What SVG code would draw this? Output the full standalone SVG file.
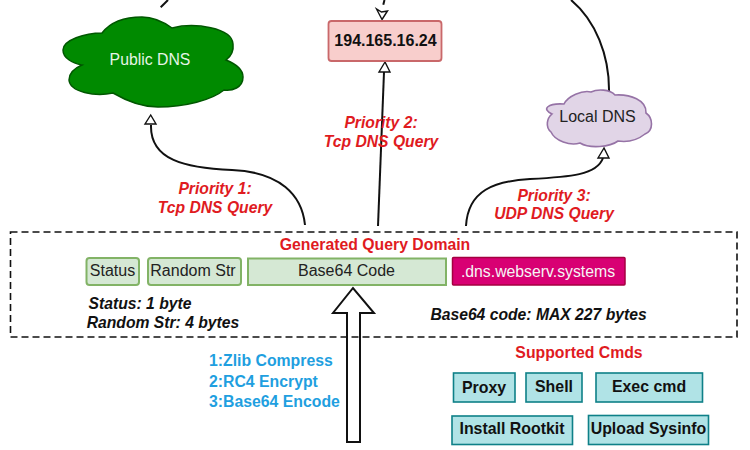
<svg xmlns="http://www.w3.org/2000/svg" width="750" height="450" viewBox="0 0 750 450">
<style>
text{font-family:"Liberation Sans",Arial,sans-serif;text-anchor:middle}
.red{fill:#e01b1f;font-weight:bold;font-style:italic;font-size:15.7px}
.note{fill:#111;font-weight:bold;font-style:italic;font-size:15.7px}
.blue{fill:#1f9fe0;font-weight:bold;font-size:15.8px;text-anchor:start}
.lbl{fill:#222;font-size:16px}
.cmd{fill:#b0e3e6;stroke:#0e8088;stroke-width:1.6}
.cmdt{fill:#111;font-weight:bold;font-size:15.9px}
.grn{fill:#d5e8d4;stroke:#82b366;stroke-width:2}
.wire{fill:none;stroke:#111;stroke-width:2}
.head{fill:#fff;stroke:#111;stroke-width:1.4}
</style>
<g id="connectors">
<path class="wire" d="M160.700 7.300 L168 0"/>
<path class="wire" d="M384.500 0 L382.500 8" stroke-dasharray="5 4"/>
<path class="head" d="M382 19.500 L376.500 9 L381.500 12 L387.500 11 Z"/>
<path class="wire" d="M571 0 C595 20 610 55 609 94"/>
<path class="wire" d="M305 225 C302 195 280 172 232 170 C185 168 150 160 151 125"/>
<path class="head" d="M150.700 115 L145 124 L156 124 Z"/>
<path class="wire" d="M378 226 L384 72"/>
<path class="head" d="M385 62 L379 72 L390 72 Z"/>
<path class="wire" d="M466 226 C468 190 495 181 530 179 C570 177 597 175 603 158"/>
<path class="head" d="M604 148 L598 158 L609 158 Z"/>
<path d="M347 442 L347 313 L333 313 L353 288 L374 313 L360 313 L360 442 Z" fill="#fff" stroke="#111" stroke-width="2"/>
</g>
<g id="public-dns">
<path d="M102 33 C112 20 128 17 142 17 C154 17 165 23 172 28 C195 22 232 28 233 44 C234 52 230 57 226 60 C236 64 243 70 243 77 C243 88 232 91 224 90 C212 100 185 107 158 107 C140 107 125 100 113 93 C95 97 70 92 69 80 C69 73 75 68 82 65 C72 63 63 58 63 50 C63 40 85 33 102 33 Z" fill="#008a00" stroke="#005700" stroke-width="1.5"/>
<text x="150" y="64.500" font-size="15.800" style="fill:#e6f5e6">Public DNS</text>
</g>
<g id="ip-node">
<rect x="328.500" y="21" width="113" height="40" rx="3" fill="#f8cecc" stroke="#c9686a" stroke-width="1.8"/>
<text x="385.500" y="45.500" font-size="16" font-weight="bold" style="fill:#111">194.165.16.24</text>
</g>
<g id="local-dns">
<path d="M564 104 C568 96 582 90 591 92 C597 89 610 89 615 95 C630 94 647 100 646 113 C653 118 654 130 645 134 C635 142 625 142 618 141 C610 147 590 149 580 143 C570 146 555 141 551 132 C545 127 547 118 552 114 C541 109 548 103 564 104 Z" fill="#e1d5e7" stroke="#9673a6" stroke-width="1.6"/>
<text x="597.500" y="122" font-size="16" style="fill:#222">Local DNS</text>
</g>
<g id="labels">
<text class="red" x="215" y="194">Priority 1:</text>
<text class="red" x="215" y="213">Tcp DNS Query</text>
<text class="red" x="381" y="128">Priority 2:</text>
<text class="red" x="381" y="147">Tcp DNS Query</text>
<text class="red" x="554" y="201">Priority 3:</text>
<text class="red" x="554" y="219">UDP DNS Query</text>
<text class="blue" x="209" y="365.500">1:Zlib Compress</text>
<text class="blue" x="209" y="386.500">2:RC4 Encrypt</text>
<text class="blue" x="209" y="406.500">3:Base64 Encode</text>
</g>
<g id="query-domain">
<rect x="10.500" y="232" width="726.500" height="105" fill="none" stroke="#111" stroke-width="1.6" stroke-dasharray="7 4"/>
<text x="375" y="250" font-size="15.800" font-weight="bold" style="fill:#e01b1f">Generated Query Domain</text>
<text class="note" x="140" y="309">Status: 1 byte</text>
<text class="note" x="163" y="328">Random Str: 4 bytes</text>
<text class="note" x="538.500" y="320">Base64 code: MAX 227 bytes</text>
</g>
<g id="status"><rect class="grn" x="86.500" y="258" width="52.500" height="27" rx="3"/><text class="lbl" x="112.500" y="276">Status</text></g>
<g id="random-str"><rect class="grn" x="148" y="258" width="93" height="27" rx="3"/><text class="lbl" x="193" y="276">Random Str</text></g>
<g id="base64-code"><rect class="grn" x="248" y="258.500" width="198" height="26.500"/><text class="lbl" x="346.500" y="276">Base64 Code</text></g>
<g id="domain-suffix"><rect x="452.500" y="257.500" width="172.500" height="27.500" rx="1" fill="#d80073" stroke="#a50040" stroke-width="1.500"/><text x="538" y="276.500" font-size="15.800" style="fill:#f5f5f5">.dns.webserv.systems</text></g>
<g id="cmds"><text x="579" y="358" font-size="15.800" font-weight="bold" style="fill:#e01b1f">Supported Cmds</text></g>
<g id="proxy"><rect class="cmd" x="453.500" y="373" width="61.500" height="29"/><text class="cmdt" x="484" y="392.500">Proxy</text></g>
<g id="shell"><rect class="cmd" x="526" y="373" width="56" height="29"/><text class="cmdt" x="554" y="392">Shell</text></g>
<g id="exec-cmd"><rect class="cmd" x="596" y="373" width="106.500" height="29"/><text class="cmdt" x="649" y="392">Exec cmd</text></g>
<g id="install-rootkit"><rect class="cmd" x="452" y="416" width="120.500" height="28.500"/><text class="cmdt" x="512" y="434">Install Rootkit</text></g>
<g id="upload-sysinfo"><rect class="cmd" x="588.500" y="415.500" width="120" height="29"/><text class="cmdt" x="648.500" y="434">Upload Sysinfo</text></g>
</svg>
